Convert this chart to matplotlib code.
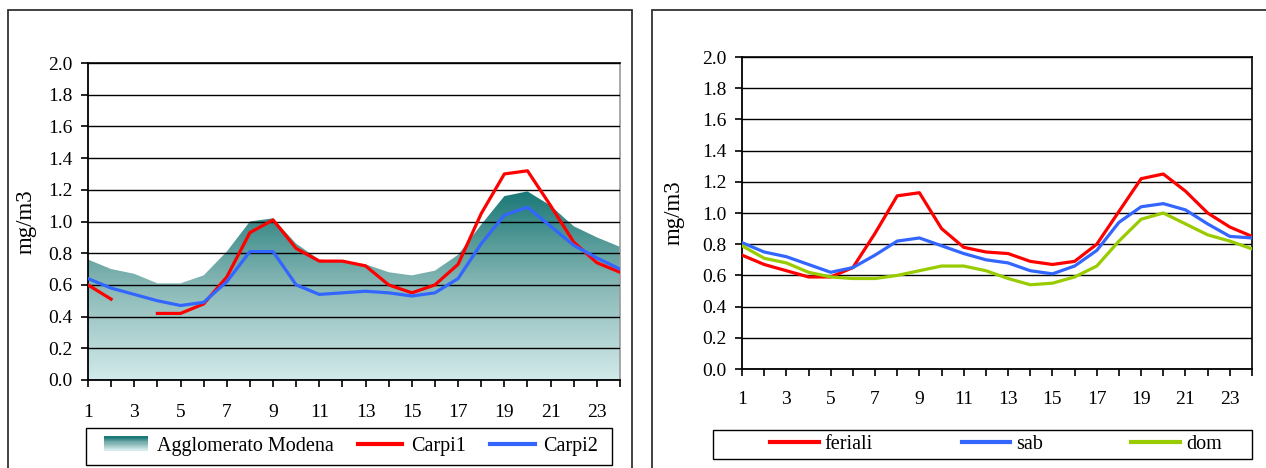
import numpy as np
import matplotlib
matplotlib.use("Agg")
import matplotlib.pyplot as plt
from matplotlib.colors import LinearSegmentedColormap
from matplotlib.patches import Rectangle
from matplotlib.lines import Line2D
from matplotlib.legend_handler import HandlerBase

plt.rcParams['font.family'] = ['Liberation Serif', 'DejaVu Serif']

hours = list(range(1, 25))
tick_labels = [str(h) for h in range(1, 24, 2)]

# left panel
agglomerato = [0.76, 0.70, 0.67, 0.61, 0.61, 0.66, 0.81, 1.00, 1.02, 0.86, 0.76, 0.75,
               0.73, 0.68, 0.66, 0.69, 0.79, 0.98, 1.16, 1.19, 1.10, 0.97, 0.90, 0.84]
carpi1 = [0.60, 0.51, np.nan, 0.42, 0.42, 0.48, 0.65, 0.93, 1.01, 0.83, 0.75, 0.75,
          0.72, 0.60, 0.55, 0.60, 0.73, 1.05, 1.30, 1.32, 1.10, 0.87, 0.74, 0.68]
carpi2 = [0.64, 0.58, 0.54, 0.50, 0.47, 0.49, 0.62, 0.81, 0.81, 0.60, 0.54, 0.55,
          0.56, 0.55, 0.53, 0.55, 0.64, 0.86, 1.04, 1.09, 0.97, 0.85, 0.77, 0.70]

# right panel
feriali = [0.73, 0.67, 0.63, 0.59, 0.59, 0.65, 0.87, 1.11, 1.13, 0.90, 0.78, 0.75,
           0.74, 0.69, 0.67, 0.69, 0.80, 1.01, 1.22, 1.25, 1.14, 1.00, 0.91, 0.85]
sab = [0.81, 0.75, 0.72, 0.67, 0.62, 0.65, 0.73, 0.82, 0.84, 0.79, 0.74, 0.70,
       0.68, 0.63, 0.61, 0.66, 0.76, 0.94, 1.04, 1.06, 1.02, 0.93, 0.85, 0.84]
dom = [0.79, 0.71, 0.68, 0.62, 0.59, 0.58, 0.58, 0.60, 0.63, 0.66, 0.66, 0.63,
       0.58, 0.54, 0.55, 0.59, 0.66, 0.82, 0.96, 1.00, 0.93, 0.86, 0.82, 0.77]

RED = '#ff0000'
BLUE = '#3366ff'
GREEN = '#99cc00'
FS = 14
LEG_FS = 14.5
W, H = 1266, 468

teal_cmap = LinearSegmentedColormap.from_list('teal', ['#d2eaea', '#88b8b6', '#1a7876'])


class GradientHandler(HandlerBase):
    # legend patch with the same light-to-dark (bottom-to-top) gradient as the area
    def create_artists(self, legend, orig_handle, xdescent, ydescent, width, height, fontsize, trans):
        arts = []
        n = 12
        for i in range(n):
            r = Rectangle((-xdescent, -ydescent + height * i / n), width, height / n + 0.3,
                          facecolor=teal_cmap(i / (n - 1)), edgecolor='none', transform=trans)
            arts.append(r)
        return arts


def px_rect(x0, y0, x1, y1, **kw):
    # rectangle given in pixel coords (top-left origin)
    return Rectangle((x0 / W, 1 - y1 / H), (x1 - x0) / W, (y1 - y0) / H,
                     transform=fig.transFigure, fill=False, **kw)


def style_axes(ax, pad, right_spine_color):
    ax.set_xlim(1, 24)
    ax.set_ylim(0, 2.0)
    ax.set_yticks(np.arange(0, 2.01, 0.2))
    ax.set_yticklabels([f'{v:.1f}' for v in np.arange(0, 2.01, 0.2)])
    ax.set_xticks(range(1, 24, 2))
    ax.set_xticklabels(tick_labels)
    ax.set_xticks(range(2, 25, 2), minor=True)
    ax.tick_params(axis='both', which='both', direction='out', length=5, width=1.2,
                   labelsize=FS, color='black')
    ax.tick_params(axis='x', which='major', pad=pad)
    ax.tick_params(axis='y', pad=6)
    ax.grid(axis='y', color='black', linewidth=1.0)
    ax.set_axisbelow(False)
    for s in ['left', 'bottom']:
        ax.spines[s].set_linewidth(1.3)
        ax.spines[s].set_color('black')
    ax.spines['top'].set_linewidth(1.2)
    ax.spines['right'].set_color(right_spine_color)
    ax.spines['right'].set_linewidth(1.2)
    ax.set_ylabel('mg/m3', fontsize=16.5)


fig = plt.figure(figsize=(W / 100, H / 100), dpi=100)

# panel frames
fig.patches.append(px_rect(8, 10, 632, 480, edgecolor='#333333', linewidth=1.3))
fig.patches.append(px_rect(652, 10, 1290, 480, edgecolor='#333333', linewidth=1.3))
# legend frames
fig.patches.append(px_rect(86, 428, 612, 465, edgecolor='black', linewidth=1.0))
fig.patches.append(px_rect(713, 430, 1252, 459, edgecolor='black', linewidth=1.0))

# left chart
ax1 = fig.add_axes([88 / W, 1 - 380 / H, 532 / W, 317 / H])
poly = ax1.fill_between(hours, 0, agglomerato, facecolor='none', edgecolor='none')
grad = np.linspace(0, 1, 256).reshape(-1, 1)
img = ax1.imshow(grad, cmap=teal_cmap, origin='lower', aspect='auto',
                 extent=[1, 24, 0, max(agglomerato)], zorder=1)
img.set_clip_path(poly.get_paths()[0], transform=ax1.transData)
ax1.plot(hours, carpi1, color=RED, linewidth=2.3, zorder=3)
ax1.plot(hours, carpi2, color=BLUE, linewidth=2.3, zorder=3)
style_axes(ax1, pad=12, right_spine_color='#999999')
ax1.yaxis.set_label_coords(-0.097, 0.5)

h1 = [Rectangle((0, 0), 1, 1), Line2D([], [], color=RED, linewidth=3), Line2D([], [], color=BLUE, linewidth=3)]
fig.legend(h1, ['Agglomerato Modena', 'Carpi1', 'Carpi2'], loc='center', ncol=3,
           bbox_to_anchor=(351 / W, 1 - 446 / H), bbox_transform=fig.transFigure,
           fontsize=LEG_FS, frameon=False, handlelength=2.2, handletextpad=0.45,
           columnspacing=1.2, handler_map={Rectangle: GradientHandler()}, borderpad=0.1)

# right chart
ax2 = fig.add_axes([742 / W, 1 - 369 / H, 510 / W, 312 / H])
ax2.plot(hours, feriali, color=RED, linewidth=2.3, zorder=3)
ax2.plot(hours, sab, color=BLUE, linewidth=2.3, zorder=3)
ax2.plot(hours, dom, color=GREEN, linewidth=2.3, zorder=3)
style_axes(ax2, pad=11, right_spine_color='black')
ax2.yaxis.set_label_coords(-0.112, 0.5)

h2 = [Line2D([], [], color=c, linewidth=3) for c in (RED, BLUE, GREEN)]
fig.legend(h2, ['feriali', 'sab', 'dom'], loc='center', ncol=3,
           bbox_to_anchor=(996 / W, 1 - 444 / H), bbox_transform=fig.transFigure,
           fontsize=LEG_FS, frameon=False, handlelength=2.4, handletextpad=0.3,
           columnspacing=4.4, borderpad=0.1)

fig.savefig('out.png', dpi=100)
